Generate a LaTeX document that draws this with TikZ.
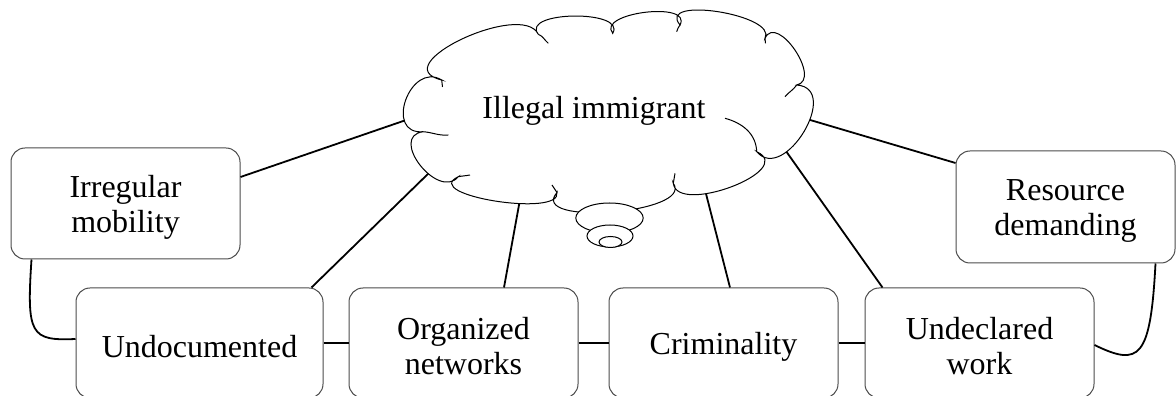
\documentclass[tikz,border=0pt]{standalone}
\usepackage{fontspec}
\setmainfont{Liberation Serif}
\usetikzlibrary{calc}
\newcommand\lobe[3]{.. controls ($(#1)!-0.22!(#3)+1.3333*(#2)-0.6667*(#1)-0.6667*(#3)$) and ($(#3)!-0.22!(#1)+1.3333*(#2)-0.6667*(#1)-0.6667*(#3)$) .. (#3)}
\newcommand\tallstrut{\rule{0pt}{29pt}}
\tikzset{
  box/.style={draw=black!70, line width=1pt, rounded corners=14pt, fill=white, align=center,
    font=\fontsize{32}{35}\selectfont, inner sep=0pt},
  conn/.style={line width=1.8pt, black},
  cloudline/.style={line width=1pt, black},
}
\begin{document}
\begin{tikzpicture}[x=1pt,y=1pt]
\useasboundingbox (0,0) rectangle (1176,396);
% boxes
\node[box, minimum width=229pt, minimum height=111pt] (irr) at (125.5,192.5) {\tallstrut Irregular\\mobility};
\node[box, minimum width=219pt, minimum height=112pt] (res) at (1065.5,189) {\tallstrut Resource\\demanding};
\node[box, minimum width=247pt, minimum height=110pt] (und) at (199.5,53) {\tallstrut Undocumented};
\node[box, minimum width=229pt, minimum height=110pt] (org) at (463.5,53) {\tallstrut Organized\\networks};
\node[box, minimum width=229pt, minimum height=110pt] (crim) at (723.5,53) {\tallstrut Criminality};
\node[box, minimum width=229pt, minimum height=110pt] (work) at (979.5,53) {\tallstrut Undeclared\\work};
% cloud anchor coordinates
\coordinate (cIrr) at (412,278);
\coordinate (cUnd) at (432,226);
\coordinate (cOrg) at (521,202);
\coordinate (cCrim) at (703,214);
\coordinate (cWork) at (776,259);
\coordinate (cRes) at (800,279);
% connectors
\draw[conn] ([yshift=26.5pt]irr.east) -- (cIrr);
\draw[conn] ([xshift=-12pt]und.north east) -- (cUnd);
\draw[conn] ([xshift=40.5pt]org.north) -- (cOrg);
\draw[conn] ([xshift=6.5pt]crim.north) -- (cCrim);
\draw[conn] ([xshift=18pt]work.north west) -- (cWork);
\draw[conn] ([yshift=44pt]res.west) -- (cRes);
\draw[conn] (und.east) -- (org.west);
\draw[conn] (org.east) -- (crim.west);
\draw[conn] (crim.east) -- (work.west);
\draw[conn] ([xshift=21pt]irr.south west) .. controls +(-5,-75) and +(-45,-2) .. ([yshift=4pt]und.west);
\draw[conn] ([xshift=-20pt]res.south east) .. controls +(-5,-95) and +(45,-22) .. ([yshift=-2pt]work.east);
% cloud
\coordinate (P1) at (441.7,316);
\coordinate (M1) at (462,357);
\coordinate (P2) at (538.3,361.7);
\coordinate (M2) at (574,380);
\coordinate (P3) at (612.7,362.7);
\coordinate (M3) at (645,383.7);
\coordinate (P4) at (680,371);
\coordinate (M4) at (718.3,384.3);
\coordinate (P5) at (765,357.7);
\coordinate (M5) at (795,346);
\coordinate (P6) at (796.7,311);
\coordinate (M6) at (804,264.3);
\coordinate (P7) at (756.7,244.3);
\coordinate (M7) at (731.7,209.3);
\coordinate (P8) at (673.3,212.7);
\coordinate (M8) at (612,184);
\coordinate (P9) at (557,203.5);
\coordinate (M9) at (495,195);
\coordinate (P10) at (458.3,219.3);
\coordinate (M10) at (420,231);
\coordinate (P11) at (423.3,264.3);
\coordinate (M11) at (405.7,296);
\draw[cloudline, fill=white] (P1) \lobe{P1}{M1}{P2} \lobe{P2}{M2}{P3} \lobe{P3}{M3}{P4}
  \lobe{P4}{M4}{P5} \lobe{P5}{M5}{P6} \lobe{P6}{M6}{P7} \lobe{P7}{M7}{P8} \lobe{P8}{M8}{P9}
  \lobe{P9}{M9}{P10} \lobe{P10}{M10}{P11} \lobe{P11}{M11}{P1} -- cycle;
% interior strokes
\draw[cloudline] (P1) -- (442.5,309);
\draw[cloudline] (P2) to[out=-22, in=140] (548.3,352.7);
\draw[cloudline] (676.7,364.3) to[out=70, in=-130] (P4);
\draw[cloudline] (P5) -- (765.5,352.7);
\draw[cloudline] (785,299.3) to[out=50, in=-125] (P6);
\draw[cloudline] (725,277.7) to[out=-15, in=92] (P7);
\draw[cloudline] (P8) -- (675,222.7);
\draw[cloudline] (P9) -- (552,211);
\draw[cloudline] (470,221) to[out=190, in=10] (P10);
\draw[cloudline] (P11) to[out=-5, in=185] (448.3,261);
% thought bubbles
\draw[cloudline, fill=white] (609.5,178) ellipse [x radius=33.7pt, y radius=15pt];
\draw[cloudline, fill=white] (610,160) ellipse [x radius=23pt, y radius=11pt];
\draw[cloudline, fill=white] (610.5,154) ellipse [x radius=11.5pt, y radius=5.5pt];
% cloud text
\node[font=\fontsize{32}{35}\selectfont, anchor=base, inner sep=0pt] (ill) at (594,277) {Illegal immigrant};
\end{tikzpicture}
\end{document}
